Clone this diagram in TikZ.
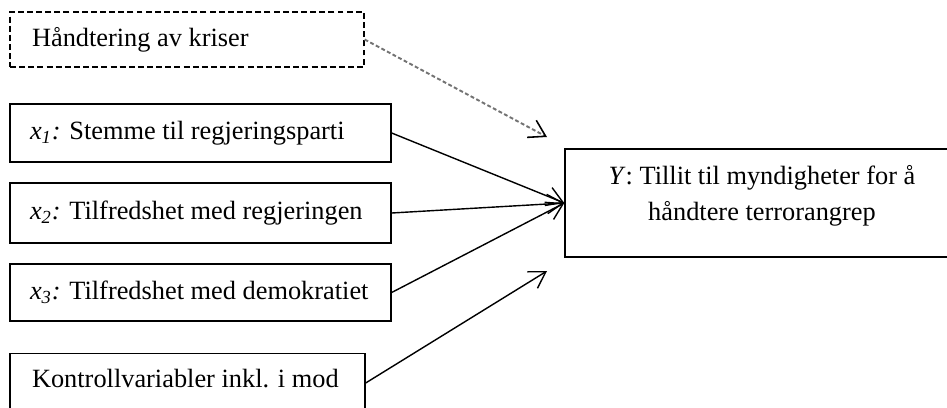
\documentclass[tikz,border=0pt]{standalone}
\usepackage{fontspec}
\setmainfont{Liberation Serif}
\usetikzlibrary{arrows.meta, positioning, calc}

\tikzset{
  varbox/.style={draw, line width=0.8pt, align=flush left, inner ysep=0pt,
    font=\fontsize{15}{20.4}\selectfont},
  effarrow/.style={-{Straight Barb[length=9pt, width=11pt, line width=0.8pt]}, line width=0.8pt},
  crisisarrow/.style={-{Straight Barb[length=9pt, width=11pt, line width=0.9pt, color=black]},
    line width=1.1pt, draw=black!55, dash pattern=on 2.2pt off 1.4pt}
}

\begin{document}
\begin{tikzpicture}[x=0.02cm, y=0.02cm]
  \useasboundingbox (0,0) rectangle (947,407);
  \clip (0,0) rectangle (947,407);

  % Latent crisis handling (dashed)
  \node[varbox, dashed, dash pattern=on 3.4pt off 1.8pt, text width=6.2cm, inner xsep=0.44cm,
    minimum height=1.1cm] (kriser) at (187,367.5) {Håndtering av kriser};

  % Independent variables
  \node[varbox, text width=6.82cm, inner xsep=0.4cm, minimum height=1.16cm] (x1) at (200.5,274)
    {\textit{x\textsubscript{1}:} Stemme til regjeringsparti};
  \node[varbox, text width=6.82cm, inner xsep=0.4cm, minimum height=1.2cm] (x2) at (200.5,194)
    {\textit{x\textsubscript{2}:} Tilfredshet med regjeringen};
  \node[varbox, text width=6.82cm, inner xsep=0.4cm, minimum height=1.14cm] (x3) at (200.5,114.5)
    {\textit{x\textsubscript{3}:} Tilfredshet med demokratiet};
  % control box runs off the bottom edge
  \node[varbox, anchor=north, text width=6.22cm, inner xsep=0.44cm, text height=0.68cm,
    text depth=0.6cm] (ctrl) at (187.5,54) {Kontrollvariabler inkl. i mod};

  % Dependent variable
  \node[varbox, minimum width=7.88cm, minimum height=2.16cm] (Y) at (762,204) {};
  \node[align=center, inner sep=0pt, font=\fontsize{15}{20.4}\selectfont] (ytext) at (762,211)
    {\textit{Y}: Tillit til myndigheter for å\\håndtere terrorangrep};

  % Arrows
  \coordinate (kriserend) at (547,270);
  \coordinate (ctrlstart) at ($(ctrl.north east)+(0,-30)$);
  \coordinate (ctrlend) at (547,136);
  \draw[crisisarrow] (kriser.east) -- (kriserend);
  \draw[effarrow] (x1.east) -- (Y.west);
  \draw[effarrow] (x2.east) -- (Y.west);
  \draw[effarrow] (x3.east) -- (Y.west);
  \draw[effarrow] (ctrlstart) -- (ctrlend);
\end{tikzpicture}
\end{document}
